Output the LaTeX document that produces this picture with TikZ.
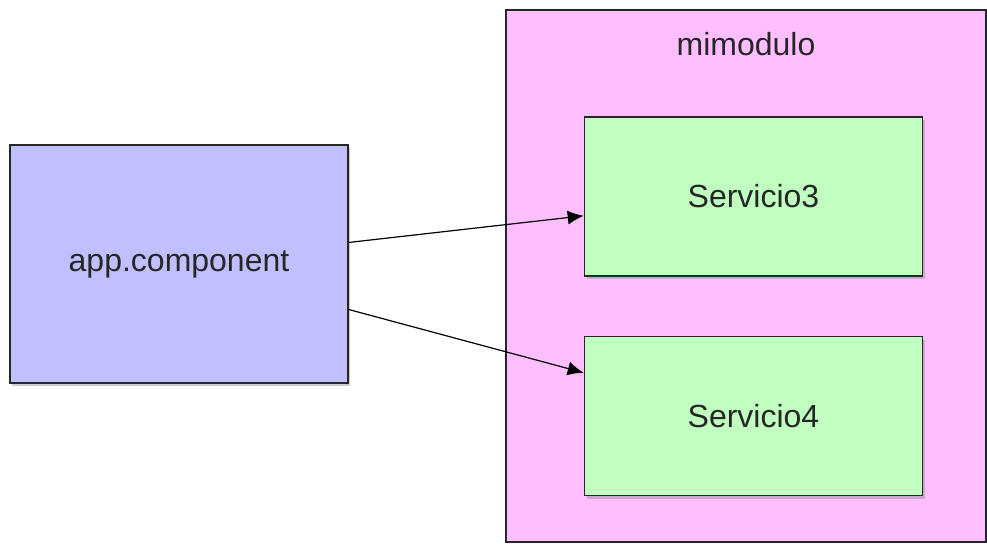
\documentclass[tikz,border=0pt]{standalone}
\usepackage{fontspec}
\setmainfont{Liberation Sans}
\usepackage{xcolor}
\usetikzlibrary{positioning,arrows.meta,calc,shadows}
\definecolor{compblue}{RGB}{192,192,255}
\definecolor{servgreen}{RGB}{192,255,192}
\definecolor{modpink}{RGB}{255,190,255}
\tikzset{
  box/.style={draw=black!85, line width=0.8pt, minimum width=169pt, align=center,
              font=\fontsize{16}{19}\selectfont, text=black!85,
              drop shadow={shadow xshift=1pt, shadow yshift=-1.5pt, opacity=0.4}},
  compbox/.style={box, fill=compblue, minimum height=119pt},
  servbox/.style={box, fill=servgreen, minimum height=79.5pt},
  modbox/.style={draw=black!85, line width=0.8pt, fill=modpink,
                 minimum width=240pt, minimum height=266pt},
  arrow/.style={-{Latex[length=8pt,width=7pt]}, line width=0.6pt},
}

\begin{document}
\begin{tikzpicture}[x=0.5pt, y=-0.5pt]
  \useasboundingbox (0,0) rectangle (987,543);
  \node[modbox]                 (mod) at (746,276) {};
  \node[font=\fontsize{16}{19}\selectfont, text=black!85, below=8pt of mod.north] (modtitle) {mimodulo};

  \node[compbox]                (app) at (179,264) {app.component};
  \node[servbox]                (s3)  at (753.5,196.5) {Servicio3};
  \node[servbox, below=29.5pt of s3] (s4) {Servicio4};

  \draw[arrow] ($(app.north east)!0.41!(app.south east)$) -- ($(s3.north west)!0.62!(s3.south west)$);
  \draw[arrow] ($(app.north east)!0.69!(app.south east)$) -- ($(s4.north west)!0.23!(s4.south west)$);
\end{tikzpicture}
\end{document}
